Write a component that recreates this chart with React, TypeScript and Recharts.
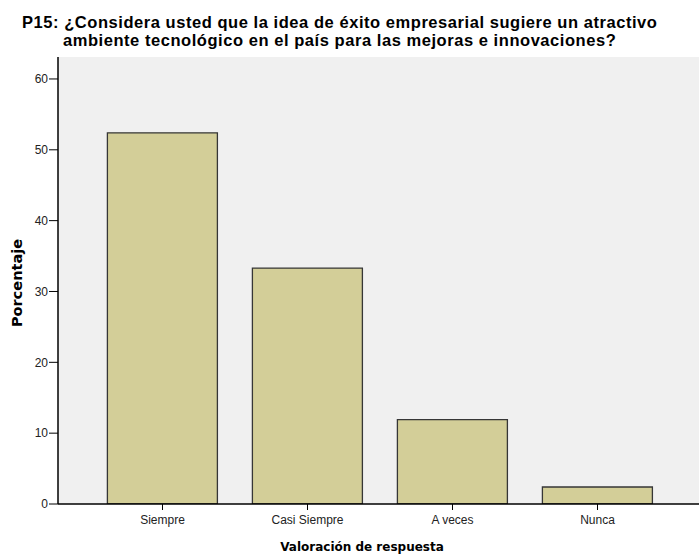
import React from 'react';
import { BarChart, Bar, XAxis, YAxis, CartesianGrid } from 'recharts';

// Response categories and percentage of respondents (n = 42)
const categories = ['Siempre', 'Casi Siempre', 'A veces', 'Nunca'];
const percentages = [52.4, 33.3, 11.9, 2.4];
const yTicks = [0, 10, 20, 30, 40, 50, 60];

const titleLine1 = 'P15: ¿Considera usted que la idea de éxito empresarial sugiere un atractivo';
const titleLine2 = 'ambiente tecnológico en el país para las mejoras e innovaciones?';
const xTitle = 'Valoración de respuesta';
const yTitle = 'Porcentaje';

const data = categories.map((c, i) => ({ categoria: c, porcentaje: percentages[i] }));

const W = 699;
const H = 555;

export default function App() {
  return (
    <div style={{ position: 'absolute', left: 0, top: 0, width: W, height: H, background: '#fff' }}>
      <BarChart
        width={W}
        height={H}
        data={data}
        margin={{ top: 57, right: 0, bottom: 0, left: 0 }}
        barCategoryGap="12%"
      >
        <CartesianGrid fill="#F0F0F0" horizontal={false} vertical={false} />
        <XAxis
          xAxisId="top"
          orientation="top"
          dataKey="categoria"
          height={0}
          tick={false}
          tickLine={false}
          axisLine={{ stroke: '#8a8a8a', strokeWidth: 2 }}
        />
        <XAxis
          dataKey="categoria"
          height={51}
          padding={{ left: 32, right: 29 }}
          axisLine={{ stroke: '#000', strokeWidth: 1.5 }}
          tickLine={{ stroke: '#000' }}
          tickSize={6}
          tickMargin={5}
          tick={{ fill: '#222', fontSize: 12, fontFamily: 'Liberation Sans, Arial, sans-serif' }}
          interval={0}
        />
        <YAxis
          width={58}
          domain={[0, 63.1]}
          ticks={yTicks}
          allowDataOverflow
          axisLine={{ stroke: '#000', strokeWidth: 1.5 }}
          tickLine={{ stroke: '#000' }}
          tickSize={9}
          tickMargin={1}
          tick={{ fill: '#222', fontSize: 12, fontFamily: 'Liberation Sans, Arial, sans-serif' }}
        />
        <Bar
          dataKey="porcentaje"
          fill="#D3CE98"
          stroke="#363636"
          strokeWidth={1.3}
          isAnimationActive={false}
        />
      </BarChart>
      <div
        style={{
          position: 'absolute',
          left: 22,
          top: 13,
          fontFamily: 'Liberation Sans, Arial, sans-serif',
          fontWeight: 'bold',
          fontSize: 16.5,
          letterSpacing: 0.55,
          lineHeight: '18px',
          color: '#000',
          whiteSpace: 'pre',
        }}
      >
        <div>{titleLine1}</div>
        <div style={{ paddingLeft: 41 }}>{titleLine2}</div>
      </div>
      <div
        style={{
          position: 'absolute',
          left: 362,
          top: 547,
          transform: 'translate(-50%, -50%)',
          fontFamily: 'DejaVu Sans, sans-serif',
          fontWeight: 'bold',
          fontSize: 12,
          color: '#000',
          whiteSpace: 'nowrap',
        }}
      >
        {xTitle}
      </div>
      <div
        style={{
          position: 'absolute',
          left: 17,
          top: 283,
          transform: 'translate(-50%, -50%) rotate(-90deg)',
          fontFamily: 'DejaVu Sans, sans-serif',
          fontWeight: 'bold',
          fontSize: 14.5,
          color: '#000',
          whiteSpace: 'nowrap',
        }}
      >
        {yTitle}
      </div>
    </div>
  );
}
